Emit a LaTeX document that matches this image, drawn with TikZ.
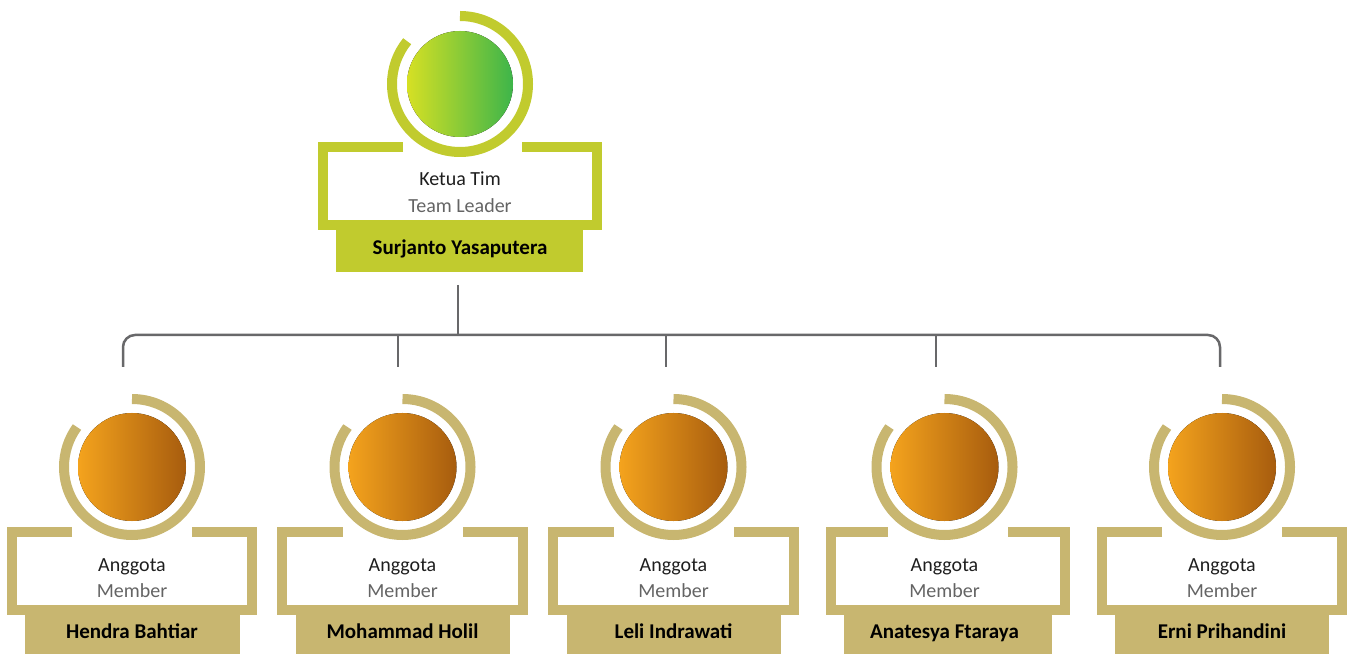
\documentclass[tikz,border=0pt]{standalone}
\usepackage{fontspec}
\setmainfont{Carlito}
\definecolor{leadc}{RGB}{193,203,46}
\definecolor{leadL}{RGB}{214,224,36}
\definecolor{leadR}{RGB}{61,181,74}
\definecolor{memc}{RGB}{200,182,112}
\definecolor{memL}{RGB}{244,163,29}
\definecolor{memR}{RGB}{167,92,14}
\definecolor{connc}{RGB}{104,104,106}
\definecolor{roleg}{RGB}{100,100,100}
\definecolor{titc}{RGB}{30,30,30}
\tikzset{
  frameline/.style={line width=10pt, miter limit=10},
  ringarc/.style={line width=10pt},
  conn/.style={draw=connc, line width=2.5pt},
  roletxt/.style={anchor=base, inner sep=0pt, text=titc, font=\fontsize{20}{22}\selectfont},
  subtxt/.style={anchor=base, inner sep=0pt, text=roleg, font=\fontsize{20}{22}\selectfont},
  nametxt/.style={anchor=base, inner sep=0pt, text=black, font=\bfseries\fontsize{21}{23}\selectfont},
}
% #1 name, #2 frame cx, #3 half card width, #4 half bar width, #5 person, #6 circle/text cx
\newcommand{\membercard}[6]{%
  \fill[left color=memL, right color=memR] (#6pt,187pt) circle (54pt);
  \draw[ringarc, memc] (#6pt,255pt) arc[start angle=90, end angle=-216, radius=68pt];
  \draw[frameline, memc] ({#2-60},122) -- ({#2-#3+5},122) -- ({#2-#3+5},44) -- ({#2+#3-5},44) -- ({#2+#3-5},122) -- ({#2+60},122);
  \fill[memc] ({#2-#4},0) rectangle ({#2+#4},44);
  \node[roletxt] (#1-role) at (#6,83) {Anggota};
  \node[subtxt] (#1-sub) at (#6,57) {Member};
  \node[nametxt] (#1-name) at (#6,16) {#5};
}
\begin{document}
\begin{tikzpicture}[x=1pt,y=1pt]
\useasboundingbox (0,0) rectangle (1347,654);
% leader
\fill[left color=leadL, right color=leadR] (460pt,570pt) circle (53pt);
\draw[ringarc, leadc] (460pt,638pt) arc[start angle=90, end angle=-219, radius=68pt];
\draw[frameline, leadc] (403,507) -- (323,507) -- (323,429) -- (597,429) -- (597,507) -- (522,507);
\fill[leadc] (336,382) rectangle (583,429);
\node[roletxt] (lead-role) at (460,468) {Ketua Tim};
\node[subtxt] (lead-sub) at (460,441) {Team Leader};
\node[nametxt] (lead-name) at (460,399) {Surjanto Yasaputera};
% members
\membercard{m1}{132}{125}{107.5}{Hendra Bahtiar}{132}
\membercard{m2}{402.5}{125.5}{107}{Mohammad Holil}{402.5}
\membercard{m3}{673.5}{125.5}{107}{Leli Indrawati}{673.5}
\membercard{m4}{948}{122}{104}{Anatesya Ftaraya}{944.5}
\membercard{m5}{1222}{125}{107}{Erni Prihandini}{1222}
% connectors
\coordinate (top) at (458,369);
\coordinate (hub) at (458,319);
\coordinate (d1) at (123,287);
\coordinate (d2) at (398,287);
\coordinate (d3) at (666,287);
\coordinate (d4) at (936,287);
\coordinate (d5) at (1220,287);
\draw[conn] (top) -- (hub);
\draw[conn, rounded corners=12pt] (d1) -- (d1 |- hub) -- (d5 |- hub) -- (d5);
\draw[conn] (d2 |- hub) -- (d2);
\draw[conn] (d3 |- hub) -- (d3);
\draw[conn] (d4 |- hub) -- (d4);
\end{tikzpicture}
\end{document}
